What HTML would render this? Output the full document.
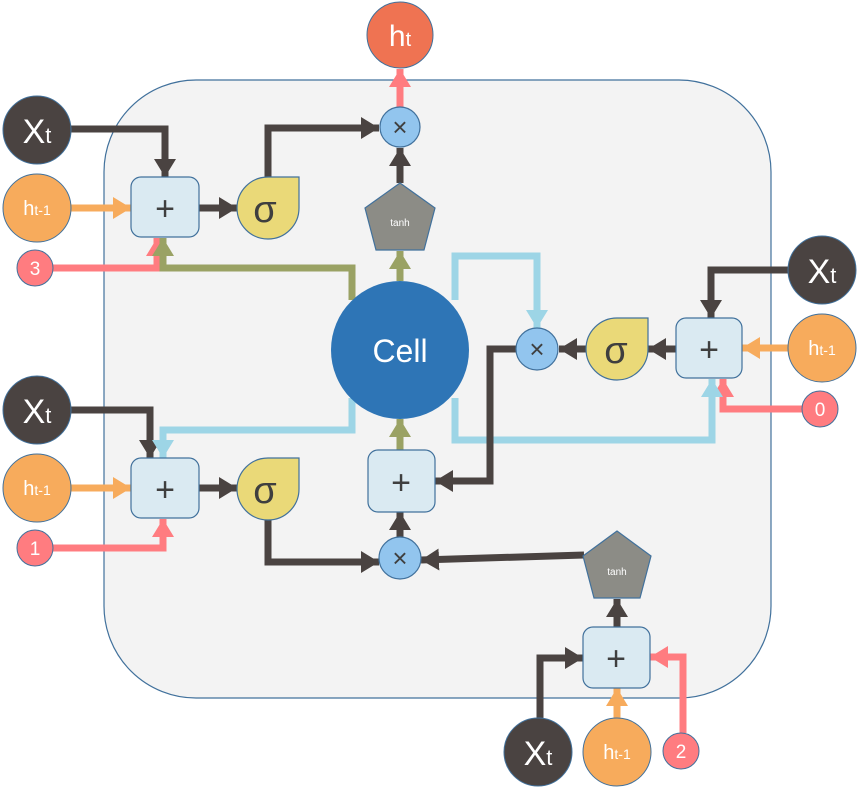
<!DOCTYPE html>
<html><head><meta charset="utf-8"><style>
html,body{margin:0;padding:0;background:#fff}
svg{display:block}
text{font-family:"Liberation Sans","DejaVu Sans",sans-serif}
</style></head><body>
<svg width="857" height="797" viewBox="0 0 857 797" xmlns="http://www.w3.org/2000/svg">
<defs>
<marker id="aD" markerUnits="userSpaceOnUse" markerWidth="22" markerHeight="22" refX="18" refY="11" orient="auto"><path d="M0,0 L18,11 L0,22 z" fill="#4a4341"/></marker>
<marker id="aO" markerUnits="userSpaceOnUse" markerWidth="22" markerHeight="22" refX="18" refY="11" orient="auto"><path d="M0,0 L18,11 L0,22 z" fill="#f7ab5c"/></marker>
<marker id="aR" markerUnits="userSpaceOnUse" markerWidth="22" markerHeight="22" refX="18" refY="11" orient="auto"><path d="M0,0 L18,11 L0,22 z" fill="#ff7c80"/></marker>
<marker id="aG" markerUnits="userSpaceOnUse" markerWidth="22" markerHeight="22" refX="18" refY="11" orient="auto"><path d="M0,0 L18,11 L0,22 z" fill="#9aa264"/></marker>
<marker id="aB" markerUnits="userSpaceOnUse" markerWidth="22" markerHeight="22" refX="18" refY="11" orient="auto"><path d="M0,0 L18,11 L0,22 z" fill="#9dd5e6"/></marker>
</defs>
<rect x="104" y="80" width="667" height="618" rx="92" fill="#f3f3f3" stroke="#41719c" stroke-width="1.2"/>
<g fill="none" stroke-width="7">
<!-- top-left -->
<polyline points="71,129 165,129 165,177" stroke="#4a4341" marker-end="url(#aD)"/>
<polyline points="71,208 131,208" stroke="#f7ab5c" marker-end="url(#aO)"/>
<polyline points="53,268 157,268 157,238" stroke="#ff7c80" marker-end="url(#aR)"/>
<polyline points="352,300 352,268 163,268 163,238" stroke="#9aa264" marker-end="url(#aG)"/>
<polyline points="199,208 237,208" stroke="#4a4341" marker-end="url(#aD)"/>
<polyline points="268,177 268,128 379,128" stroke="#4a4341" marker-end="url(#aD)"/>
<polyline points="400,107 400,69" stroke="#ff7c80" marker-end="url(#aR)"/>
<polyline points="400,183 400,148" stroke="#4a4341" marker-end="url(#aD)"/>
<polyline points="400,281 400,251" stroke="#9aa264" marker-end="url(#aG)"/>
<!-- right -->
<polyline points="788,270 711,270 711,318" stroke="#4a4341" marker-end="url(#aD)"/>
<polyline points="788,348 742,348" stroke="#f7ab5c" marker-end="url(#aO)"/>
<polyline points="802,409 723,409 723,379" stroke="#ff7c80" marker-end="url(#aR)"/>
<polyline points="676,349 648,349" stroke="#4a4341" marker-end="url(#aD)"/>
<polyline points="587,349 559,349" stroke="#4a4341" marker-end="url(#aD)"/>
<polyline points="455,300 455,256 537,256 537,328" stroke="#9dd5e6" marker-end="url(#aB)"/>
<polyline points="455,398 455,440 712,440 712,379" stroke="#9dd5e6" marker-end="url(#aB)"/>
<polyline points="516,349 490,349 490,481 435,481" stroke="#4a4341" marker-end="url(#aD)"/>
<polyline points="400,450 400,419" stroke="#9aa264" marker-end="url(#aG)"/>
<polyline points="400,537 400,512" stroke="#4a4341" marker-end="url(#aD)"/>
<!-- bottom-left -->
<polyline points="71,410 150,410 150,458" stroke="#4a4341" marker-end="url(#aD)"/>
<polyline points="352,398 352,430 163,430 163,458" stroke="#9dd5e6" marker-end="url(#aB)"/>
<polyline points="71,488 131,488" stroke="#f7ab5c" marker-end="url(#aO)"/>
<polyline points="53,548 163,548 163,519" stroke="#ff7c80" marker-end="url(#aR)"/>
<polyline points="199,488 237,488" stroke="#4a4341" marker-end="url(#aD)"/>
<polyline points="268,519 268,562 379,562" stroke="#4a4341" marker-end="url(#aD)"/>
<polyline points="584,555 421,560" stroke="#4a4341" marker-end="url(#aD)"/>
<!-- bottom -->
<polyline points="617,627 617,599" stroke="#4a4341" marker-end="url(#aD)"/>
<polyline points="540,718 540,658 583,658" stroke="#4a4341" marker-end="url(#aD)"/>
<polyline points="617,718 617,688" stroke="#f7ab5c" marker-end="url(#aO)"/>
<polyline points="683,733 683,657 650,657" stroke="#ff7c80" marker-end="url(#aR)"/>
</g>
<!-- boxes -->
<g fill="#daeaf2" stroke="#41719c" stroke-width="1.2">
<rect x="131" y="177" width="68" height="60" rx="10"/>
<rect x="131" y="458" width="68" height="60" rx="10"/>
<rect x="676" y="318" width="66" height="60" rx="10"/>
<rect x="368" y="450" width="67" height="62" rx="10"/>
<rect x="583" y="627" width="67" height="61" rx="10"/>
</g>
<g font-size="34" fill="#3f3f3f" text-anchor="middle">
<text x="165" y="220">+</text><text x="165" y="501">+</text><text x="709" y="361">+</text><text x="401" y="494">+</text><text x="616" y="670">+</text>
</g>
<!-- sigmas -->
<g fill="#ead978" stroke="#41719c" stroke-width="1.2">
<path d="M299,177 V208 A31,31 0 1 1 268,177 Z"/>
<path d="M299,458 V489 A31,31 0 1 1 268,458 Z"/>
<path d="M648,318 V349 A31,31 0 1 1 617,318 Z"/>
</g>
<g font-size="38" fill="#3f3f3f" text-anchor="middle">
<text x="265" y="222">σ</text><text x="265" y="503">σ</text><text x="616" y="363">σ</text>
</g>
<!-- times -->
<g fill="#92c5ee" stroke="#41719c" stroke-width="1.2">
<circle cx="400" cy="127" r="20"/><circle cx="537" cy="349" r="21"/><circle cx="400" cy="558" r="21"/>
</g>
<g font-size="26" fill="#3f3f3f" text-anchor="middle">
<text x="400" y="136">×</text><text x="537" y="358">×</text><text x="400" y="567">×</text>
</g>
<!-- tanh -->
<g fill="#8c8c86" stroke="#41719c" stroke-width="1.2">
<polygon points="400,183 435,208 424,250 376,250 365,208"/>
<polygon points="617,531 651,556 640,598 594,598 583,556"/>
</g>
<g font-size="10" fill="#fff" text-anchor="middle">
<text x="400" y="226">tanh</text><text x="617" y="575">tanh</text>
</g>
<!-- cell -->
<circle cx="400" cy="350" r="69" fill="#2e75b6"/>
<text x="400" y="362" font-size="32" fill="#fff" text-anchor="middle">Cell</text>
<!-- h_t -->
<circle cx="400" cy="35" r="33" fill="#ef7352" stroke="#41719c" stroke-width="1"/>
<text x="400" y="46" font-size="30" fill="#fff" text-anchor="middle">h<tspan font-size="20">t</tspan></text>
<!-- inputs -->
<g stroke="#41719c" stroke-width="1">
<circle cx="37" cy="130" r="34" fill="#4a4341"/><circle cx="37" cy="208" r="34" fill="#f7ab5c"/><circle cx="35" cy="268" r="18" fill="#ff7c80"/>
<circle cx="37" cy="410" r="34" fill="#4a4341"/><circle cx="37" cy="488" r="34" fill="#f7ab5c"/><circle cx="35" cy="548" r="18" fill="#ff7c80"/>
<circle cx="822" cy="270" r="34" fill="#4a4341"/><circle cx="822" cy="348" r="34" fill="#f7ab5c"/><circle cx="820" cy="409" r="18" fill="#ff7c80"/>
<circle cx="538" cy="752" r="34" fill="#4a4341"/><circle cx="617" cy="752" r="34" fill="#f7ab5c"/><circle cx="681" cy="751" r="18" fill="#ff7c80"/>
</g>
<g fill="#fff" text-anchor="middle">
<text x="37" y="143" font-size="34">X<tspan font-size="22">t</tspan></text>
<text x="37" y="423" font-size="34">X<tspan font-size="22">t</tspan></text>
<text x="822" y="283" font-size="34">X<tspan font-size="22">t</tspan></text>
<text x="538" y="765" font-size="34">X<tspan font-size="22">t</tspan></text>
<text x="37" y="215" font-size="20">h<tspan font-size="14">t-1</tspan></text>
<text x="37" y="495" font-size="20">h<tspan font-size="14">t-1</tspan></text>
<text x="822" y="355" font-size="20">h<tspan font-size="14">t-1</tspan></text>
<text x="617" y="759" font-size="20">h<tspan font-size="14">t-1</tspan></text>
<text x="35" y="275" font-size="19">3</text>
<text x="35" y="555" font-size="19">1</text>
<text x="820" y="416" font-size="19">0</text>
<text x="681" y="758" font-size="19">2</text>
</g>
</svg>
</body></html>
